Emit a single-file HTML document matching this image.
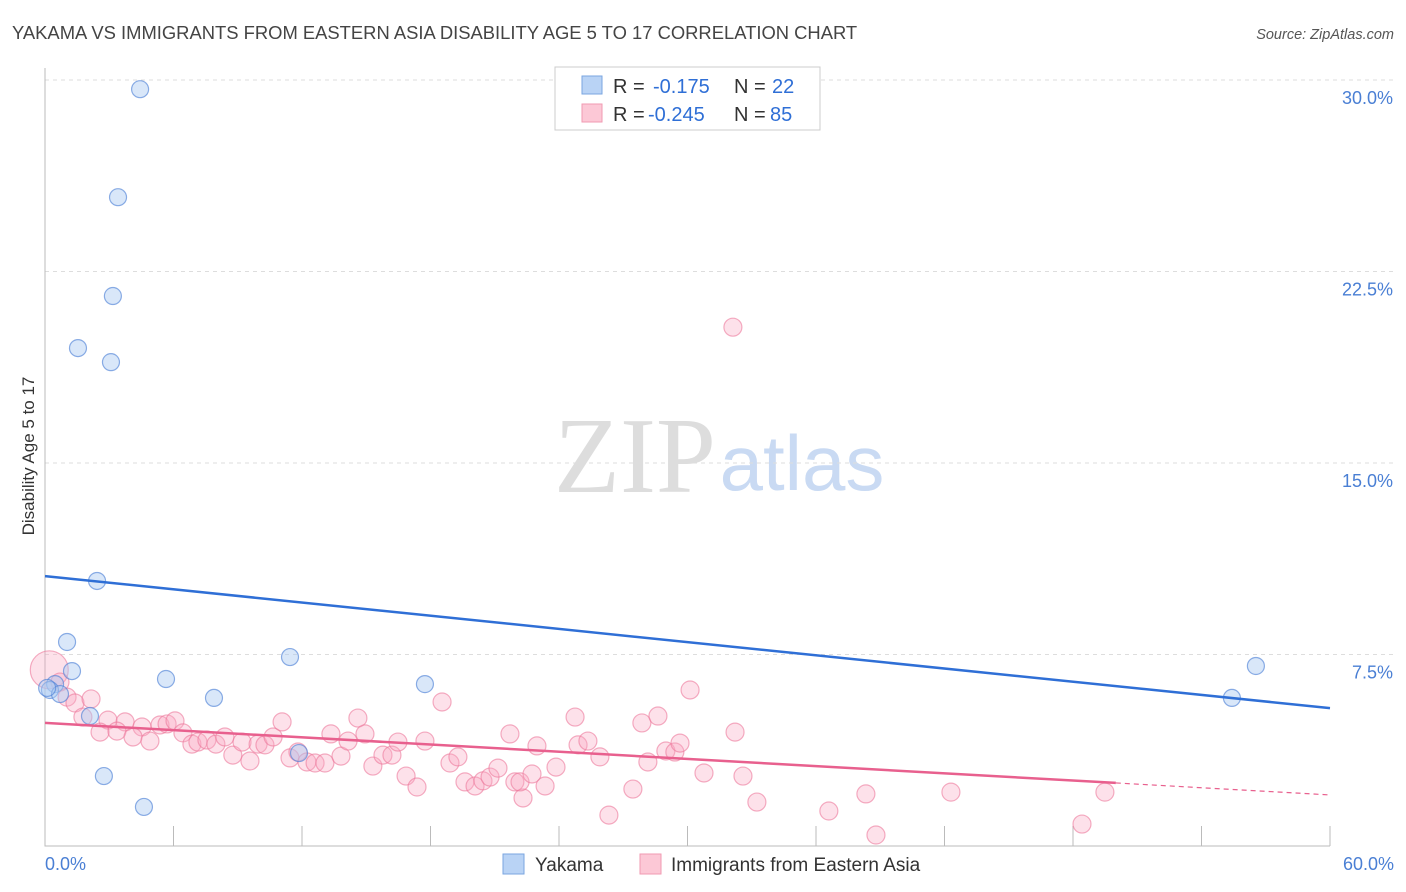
<!DOCTYPE html>
<html><head><meta charset="utf-8"><style>
body{margin:0;background:#fff;font-family:"Liberation Sans",sans-serif}
</style></head><body>
<svg id="c" width="1406" height="892" xmlns="http://www.w3.org/2000/svg" style="display:block">
<text x="12" y="39" font-size="18.4" fill="#444">YAKAMA VS IMMIGRANTS FROM EASTERN ASIA DISABILITY AGE 5 TO 17 CORRELATION CHART</text>
<text x="1394" y="39" font-size="14.5" fill="#555" font-style="italic" text-anchor="end">Source: ZipAtlas.com</text>
<text x="635" y="492" font-size="108" fill="#ddd" font-family="Liberation Serif,serif" text-anchor="middle">ZIP</text>
<text x="802" y="490" font-size="78" fill="#c9daf3" text-anchor="middle">atlas</text>
<text transform="translate(34,456) rotate(-90)" font-size="17" fill="#333" text-anchor="middle">Disability Age 5 to 17</text>
<g id="grid"></g><g id="pts"></g><g id="lines"></g>
<g>
<rect x="555" y="67" width="265" height="63" fill="#fff" stroke="#ccc"/>
<rect x="582" y="76" width="20" height="18" fill="#b9d3f5" stroke="#7aa6e0"/>
<rect x="582" y="104" width="20" height="18" fill="#fcc8d6" stroke="#f09ab2"/>
<text x="613" y="93" font-size="20" fill="#333">R = <tspan x="653" fill="#2f6fd6">-0.175</tspan><tspan x="734">N = </tspan><tspan x="772" fill="#2f6fd6">22</tspan></text>
<text x="613" y="121" font-size="20" fill="#333">R = <tspan x="648" fill="#2f6fd6">-0.245</tspan><tspan x="734">N = </tspan><tspan x="770" fill="#2f6fd6">85</tspan></text>
</g>
<g>
<rect x="503" y="854" width="21" height="20" fill="#b9d3f5" stroke="#7aa6e0"/>
<text x="535" y="871" font-size="19" fill="#333">Yakama</text>
<rect x="640" y="854" width="21" height="20" fill="#fcc8d6" stroke="#f09ab2"/>
<text x="671" y="871" font-size="19" fill="#333">Immigrants from Eastern Asia</text>
</g>
</svg>
<script>
const yTicks=[7.5,15,22.5,30];
const yTickLabels=["7.5%","15.0%","22.5%","30.0%"];
const xTickLabels=["0.0%","60.0%"];
const yakamaX=[4.44,3.41,3.17,1.54,3.08,2.43,1.03,1.26,0.47,0.23,0.70,2.10,2.75,4.62,5.65,7.89,11.44,17.74,56.54,55.42,11.86,0.1];
const yakamaY=[29.64,25.41,21.54,19.50,18.95,10.38,7.99,6.85,6.34,6.11,5.95,5.09,2.74,1.53,6.54,5.80,7.40,6.34,7.05,5.80,3.64,6.19];
const eastAsiaX=[0.2,0.70,1.03,1.40,2.15,1.77,2.94,3.74,2.57,3.36,4.53,4.11,4.90,5.37,5.70,6.07,6.44,6.86,7.14,7.56,7.98,8.40,8.77,9.20,9.57,9.95,10.27,10.65,11.07,11.44,11.81,12.23,12.61,13.07,13.35,13.82,14.15,14.61,14.94,15.31,15.78,16.20,16.48,16.86,17.37,17.74,18.54,18.91,19.28,19.61,20.08,20.45,20.78,21.15,21.71,21.94,22.32,22.18,22.74,23.35,22.97,23.86,24.75,24.89,25.35,25.91,26.33,27.45,27.87,28.62,28.15,28.99,29.41,29.65,30.12,30.77,32.22,32.59,33.24,36.60,38.33,38.80,42.30,49.49,48.42,32.12];
const eastAsiaY=[6.9,6.42,5.83,5.60,5.76,5.05,4.93,4.86,4.46,4.50,4.66,4.27,4.11,4.74,4.78,4.90,4.43,3.99,4.07,4.15,3.99,4.27,3.56,4.07,3.33,3.99,3.96,4.27,4.86,3.45,3.68,3.29,3.25,3.25,4.39,3.52,4.11,5.01,4.39,3.13,3.56,3.56,4.07,2.74,2.31,4.11,5.64,3.25,3.49,2.51,2.35,2.55,2.70,3.05,4.39,2.51,1.88,2.51,2.82,2.35,3.92,3.09,5.05,3.96,4.11,3.49,1.21,2.23,4.82,5.09,3.29,3.72,3.68,4.03,6.11,2.86,4.46,2.74,1.72,1.37,2.04,0.43,2.11,2.11,0.86,20.32];
const yakamaTrend=[10.57,5.40];
const eastAsiaTrend=[4.82,2.00];
const eastAsiaSolidEnd=50;
const NS="http://www.w3.org/2000/svg";
const sx=v=>45+v/60*1285, sy=v=>846-v/7.5*191.5;
function mk(t,a,p){const e=document.createElementNS(NS,t);for(const k in a)e.setAttribute(k,a[k]);p.appendChild(e);return e;}
const grid=document.getElementById('grid');
yTicks.forEach((t,i)=>{
 const l=mk('line',{x1:45,x2:1394,y1:sy(t),y2:sy(t),stroke:'#ddd','stroke-dasharray':'4,4'},grid);
 
 
 const tx=mk('text',{x:1393,y:sy(t)+24,'font-size':18,fill:'#4a7fd4','text-anchor':'end'},grid);
 tx.textContent=yTickLabels[i];
 
 
});
const ax=mk('path',{d:'M45 68V846H1330',stroke:'#bbb',fill:'none'},grid);


for(let i=1;i<=10;i++){const t=mk('line',{x1:sx(i*6),x2:sx(i*6),y1:826,y2:846,stroke:'#bbb'},grid);
 
 }
[[0,'start',45],[60,'end',1394]].forEach((d,i)=>{const t=mk('text',{x:d[2],y:870,'font-size':18,fill:'#4a7fd4','text-anchor':d[1]},grid);t.textContent=xTickLabels[i];
 
 });
const pts=document.getElementById('pts');
eastAsiaX.forEach((x,i)=>{const c=mk('circle',{cx:sx(x),cy:sy(eastAsiaY[i]),r:i==0?19:9,fill:'rgba(249,170,195,0.35)',stroke:'rgba(236,120,155,0.6)','stroke-width':1.2},pts);
 
 });
yakamaX.forEach((x,i)=>{const c=mk('circle',{cx:sx(x),cy:sy(yakamaY[i]),r:8.5,fill:'rgba(170,202,242,0.45)',stroke:'rgba(80,130,215,0.65)','stroke-width':1.2},pts);
 
 });
const L=document.getElementById('lines');
const b=mk('line',{x1:sx(0),y1:sy(yakamaTrend[0]),x2:sx(60),y2:sy(yakamaTrend[1]),stroke:'#2f6fd6','stroke-width':2.5},L);


const py=x=>eastAsiaTrend[0]+(eastAsiaTrend[1]-eastAsiaTrend[0])*x/60;
const p=mk('line',{x1:sx(0),y1:sy(py(0)),x2:sx(eastAsiaSolidEnd),y2:sy(py(eastAsiaSolidEnd)),stroke:'#e8608e','stroke-width':2.5},L);


const pd=mk('line',{x1:sx(eastAsiaSolidEnd),y1:sy(py(eastAsiaSolidEnd)),x2:sx(60),y2:sy(py(60)),stroke:'#e8608e','stroke-width':1.2,'stroke-dasharray':'5,4'},L);


</script>
</body></html>
